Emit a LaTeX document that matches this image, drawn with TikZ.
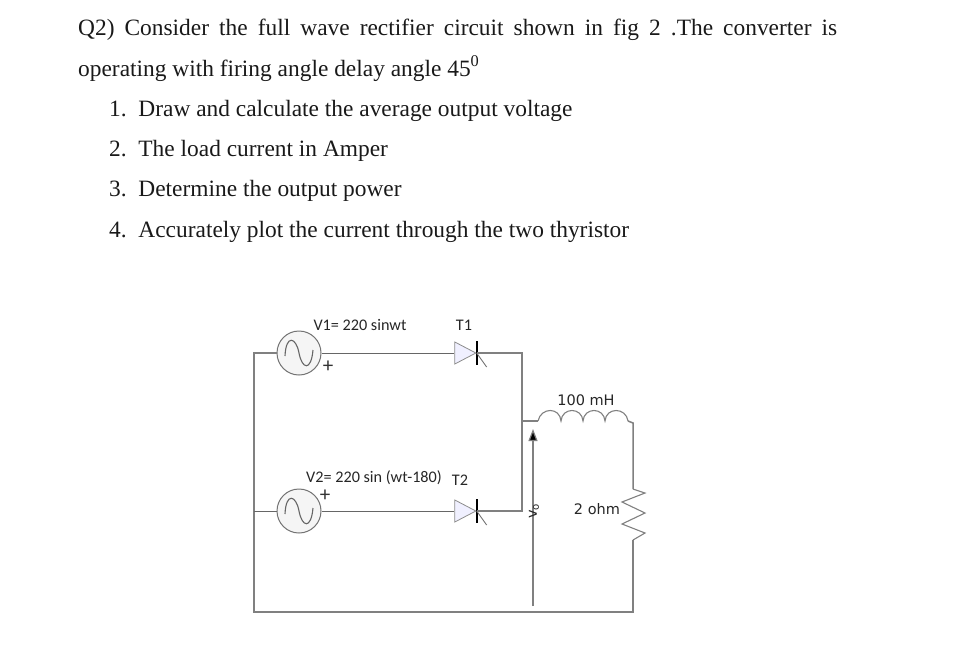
\documentclass[tikz,border=0pt]{standalone}
\usepackage{fontspec}
\setmainfont{Liberation Serif}
\newfontfamily\labelfont{Carlito}
\newfontfamily\handfont{DejaVu Sans}
\usetikzlibrary{calc,arrows.meta,shapes.geometric}

\tikzset{
    wire/.style={draw=black!50,line width=1.5pt},
    thinwire/.style={draw=black!60,line width=1pt},
    question/.style={anchor=base west,inner sep=0pt,font=\fontsize{23.4}{26}\selectfont,text=black!90},
    complabel/.style={inner sep=0pt,text=black!85,font=\labelfont\fontsize{16.2}{18}\selectfont},
    handlabel/.style={inner sep=0pt,text=black!85,font=\handfont\fontsize{14.5}{16}\selectfont},
    signlabel/.style={inner sep=0pt,text=black!80,font=\labelfont\fontsize{21}{21}\selectfont},
    acsource/.style={circle,draw=black!55,fill=black!4,line width=1pt,minimum size=44pt,inner sep=0pt},
    thyr/.style={isosceles triangle,isosceles triangle apex angle=60,draw=black!45,fill=blue!6,
        line width=0.8pt,minimum height=21pt,minimum width=22pt,inner sep=0pt,isosceles triangle stretches},
    sinewave/.pic={
        \draw[black!60,line width=1.1pt] (-14,3) .. controls (-13,-19) and (-3,-16) .. (0,0)
            .. controls (3,16) and (12,19) .. (14,-3);
    },
    thyrgate/.pic={
        \draw[black,line width=1.8pt] (0,-12) -- (0,12);
        \draw[black!55,line width=0.9pt] (0,0) -- (10,14);
    }
}

\begin{document}
\begin{tikzpicture}[x=1pt,y=-1pt]
    \useasboundingbox (0,0) rectangle (959,670);

    % Question text
    \node[question] (q1) at (78,35) {\makebox[759pt][s]{Q2) Consider the full wave rectifier circuit shown in fig 2 .The converter is}};
    \node[question] (q2) at (78,76) {operating with firing angle delay angle 45\textsuperscript{0}};
    \node[question] (n1) at (109,116) {1.\ \ Draw and calculate the average output voltage};
    \node[question] (n2) at (109,156) {2.\ \ The load current in Amper};
    \node[question] (n3) at (109,196) {3.\ \ Determine the output power};
    \node[question] (n4) at (109,237) {4.\ \ Accurately plot the current through the two thyristor};

    % Corners of the circuit
    \coordinate (tl) at (254,353);
    \coordinate (tr) at (522,353);
    \coordinate (ml) at (254,511);
    \coordinate (mr) at (522,511);
    \coordinate (bl) at (254,612);
    \coordinate (br) at (633,612);
    \coordinate (lj) at (522,421);
    \coordinate (lstart) at (538,421);
    \coordinate (lend) at (628,421);
    \coordinate (lr) at (633,423);
    \coordinate (rtop) at (633,489);
    \coordinate (rbot) at (633,540);
    \coordinate (vlow) at (533,606);
    \coordinate (vhigh) at (533,429);

    % Sources
    \node[acsource] (v1) at (299,353) {};
    \node[acsource] (v2) at (299,511) {};
    \pic at (v1) {sinewave};
    \pic at (v2) {sinewave};

    % Thyristors
    \node[thyr] (t1) at (461.5,353) {};
    \node[thyr] (t2) at (461.5,511) {};
    \pic at (t1.apex) {thyrgate};
    \pic at (t2.apex) {thyrgate};

    % Wires
    \draw[wire] (v1) -- (tl) -- (bl) -- (br) -- (rbot);
    \draw[thinwire] (ml) -- (v2);
    \draw[thinwire] (v1) -- (t1);
    \draw[thinwire] (v2) -- (t2);
    \draw[wire] (t1.apex) -- (tr) -- (mr) -- (t2.apex);

    % Load side
    \draw[wire] (lj) -- (lstart);
    \draw[wire] (lend) -- (lr) -- (rtop);

    % Inductor
    \draw[wire,line width=1.1pt] (lstart) .. controls (541,407) and (560,407) .. (561,421)
        .. controls (562,407) and (582,407) .. (583,421)
        .. controls (584,407) and (604,407) .. (605,421)
        .. controls (606,407) and (626,407) .. (lend);

    % Resistor
    \draw[wire,line width=1.1pt] (rtop) -- (645,493) -- (622,502) -- (645,513) -- (622,524) -- (645,533) -- (rbot);

    % Output voltage arrow
    \draw[wire,line width=1.2pt,-{Triangle[length=12pt,width=9pt,fill=black]}] (vlow) -- (vhigh);

    % Labels
    \node[complabel] (v1lab) at (360,325) {V1= 220 sinwt};
    \node[complabel] (t1lab) at (464,325) {T1};
    \node[complabel] (v2lab) at (374,478) {V2= 220 sin (wt-180)};
    \node[complabel] (t2lab) at (460,480) {T2};
    \node[signlabel] (p1) at (328,367) {+};
    \node[signlabel] (p2) at (325,496) {+};
    \node[handlabel] (lval) at (586,400) {100 mH};
    \node[handlabel] (rval) at (597,509) {2 ohm};
    \node[handlabel,rotate=90] (vo) at (534,511) {v\textsubscript{o}};
\end{tikzpicture}
\end{document}
